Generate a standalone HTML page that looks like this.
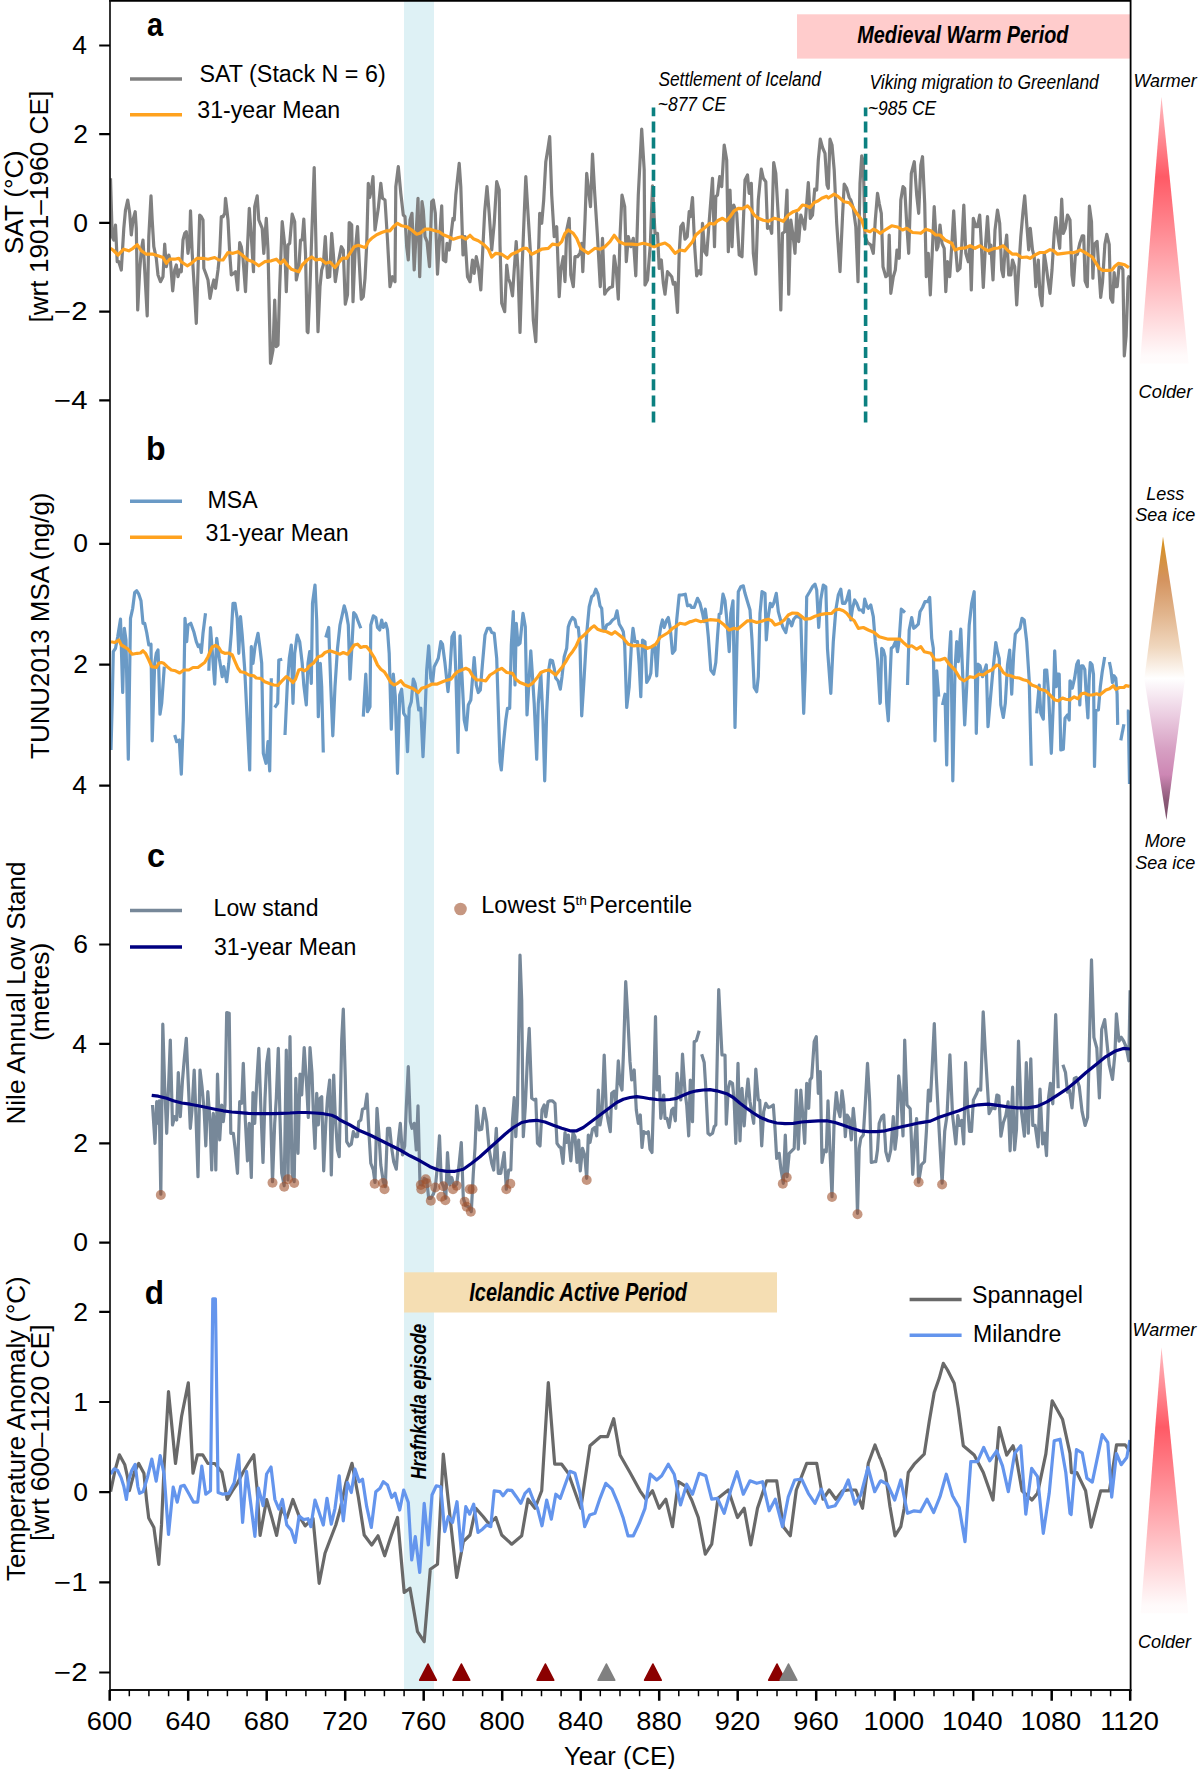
<!DOCTYPE html>
<html><head><meta charset="utf-8"><style>
html,body{margin:0;padding:0;background:#fff;width:1200px;height:1769px;overflow:hidden}
svg{display:block;font-family:"Liberation Sans", sans-serif}
</style></head><body>
<svg width="1200" height="1769" viewBox="0 0 1200 1769">
<defs><clipPath id="clipplot"><rect x="110" y="0" width="1020.6" height="1690"/></clipPath></defs>
<rect x="404" y="0" width="30" height="1690" fill="#DEF1F5"/>
<rect x="797" y="14.3" width="333.6" height="44.3" fill="#FFCCCC"/>
<rect x="404.1" y="1272.3" width="372.9" height="40.2" fill="#F5DEB3"/>
<g clip-path="url(#clipplot)">
<polyline points="110.5,178.3 112.2,236.7 113.8,240.0 115.5,225.0 117.2,261.7 118.8,261.7 121.3,270.0 123.8,228.3 125.5,210.0 127.7,200.0 129.7,213.3 131.3,235.0 133.0,220.0 135.2,211.7 136.3,228.3 137.7,310.0 139.7,270.0 141.3,250.0 143.0,240.0 144.7,270.0 147.2,315.8 148.8,236.7 151.0,195.8 152.2,220.0 153.8,246.7 156.3,258.3 158.0,275.0 160.5,281.7 163.0,276.7 164.7,244.2 166.3,266.7 168.8,255.0 170.5,261.7 172.7,290.8 174.7,270.0 176.3,265.0 178.0,276.7 179.7,270.0 181.3,271.7 183.0,240.0 184.7,233.3 186.3,231.7 188.0,253.3 189.7,240.0 190.5,210.8 192.2,253.3 194.7,295.0 196.3,323.3 198.0,270.0 199.7,215.0 201.3,216.7 203.0,220.0 203.8,268.3 206.3,275.0 208.0,280.0 210.0,298.3 212.2,286.7 213.8,280.0 215.5,288.3 218.0,270.0 219.7,253.3 221.3,216.7 223.0,216.7 224.7,213.3 225.5,198.3 226.7,208.3 228.0,220.0 229.7,253.3 231.3,275.0 233.8,273.3 235.5,271.7 237.7,290.0 239.7,242.5 241.3,246.7 243.0,258.3 245.5,291.7 247.2,253.3 249.3,208.3 251.3,236.7 253.5,271.7 254.7,206.7 257.2,195.8 258.8,220.0 260.5,224.2 262.2,228.3 263.8,253.3 266.3,218.3 268.0,250.0 270.5,363.3 273.0,350.0 274.7,300.0 276.3,346.7 278.0,345.0 279.7,286.7 282.2,221.7 284.7,245.0 286.3,291.7 288.0,245.0 289.7,243.3 292.2,214.2 294.7,221.7 296.3,280.0 298.8,268.3 300.5,240.0 302.2,240.0 303.8,219.2 305.5,253.3 307.2,331.7 308.0,332.5 310.0,286.7 311.7,236.7 314.2,167.5 315.8,236.7 318.0,331.7 320.0,286.7 321.7,270.0 323.3,265.0 325.3,236.7 327.5,277.5 329.7,276.7 331.7,233.3 333.3,253.3 335.3,281.7 337.5,266.7 341.3,246.7 343.3,250.0 345.3,304.2 347.5,295.0 349.2,222.5 351.7,225.0 353.0,301.7 355.0,253.3 357.5,226.7 359.2,261.7 361.3,299.2 363.3,296.7 365.0,278.3 366.7,245.0 368.3,183.3 369.7,197.5 371.3,190.0 373.0,176.7 375.0,230.0 378.3,208.3 380.8,183.3 382.5,198.3 385.0,200.0 387.5,240.0 390.0,286.7 392.5,276.7 395.0,281.7 395.8,186.7 398.3,166.7 400.8,193.3 403.3,215.0 405.0,216.7 406.7,246.7 408.3,260.0 410.0,220.0 412.0,213.3 414.2,270.0 415.8,240.0 418.0,198.3 419.7,276.7 422.0,201.7 423.3,210.0 425.0,236.7 427.0,241.7 429.5,266.7 431.7,201.7 433.3,200.0 435.3,213.3 437.5,274.2 439.7,236.7 441.7,205.8 443.3,260.0 445.8,261.7 447.0,243.3 449.2,250.0 450.8,236.7 453.0,218.3 454.2,220.0 455.8,195.0 459.2,163.3 460.8,186.7 463.0,255.0 465.0,236.7 467.5,276.7 470.0,281.7 472.5,260.0 474.2,273.3 476.3,256.7 478.3,266.7 480.8,290.0 483.0,245.0 484.7,211.7 487.0,186.7 489.2,213.3 491.7,250.0 494.2,223.3 496.7,181.7 499.2,190.0 500.0,245.0 501.7,303.3 504.7,311.7 506.7,265.0 508.3,278.3 510.3,283.3 512.5,295.8 514.2,270.0 516.2,241.7 518.0,270.0 520.0,332.5 522.0,270.0 524.2,215.0 525.8,176.7 528.0,213.3 530.8,258.3 533.3,320.0 535.8,341.7 537.5,286.7 539.7,213.3 541.7,223.3 543.7,200.0 545.8,161.7 548.0,148.3 549.7,136.7 551.7,195.0 554.2,236.7 556.7,226.7 559.2,296.7 560.8,270.0 563.3,256.7 565.0,281.7 566.7,230.0 569.2,218.3 570.8,275.0 573.3,286.7 575.0,256.7 577.5,256.7 580.0,253.3 581.7,243.3 582.8,271.7 585.0,220.0 586.7,173.3 588.7,191.7 590.5,206.7 592.5,154.2 594.7,193.3 597.5,236.7 600.3,286.7 602.5,238.3 604.7,294.2 606.7,290.8 610.0,287.5 612.5,286.7 614.2,255.8 616.3,270.0 618.3,299.2 620.0,236.7 622.0,195.0 624.7,206.7 626.3,261.7 628.3,236.7 630.8,246.7 633.3,238.3 635.8,275.8 638.3,195.0 641.7,129.2 644.2,170.0 645.0,285.0 647.5,280.0 650.3,245.0 652.5,185.8 655.0,233.3 657.5,233.3 659.2,268.3 661.3,260.0 663.3,283.3 665.0,294.2 667.5,271.7 669.7,274.2 671.7,276.7 673.3,284.2 675.0,282.5 677.5,312.5 679.2,253.3 680.8,226.7 683.0,223.3 685.0,239.2 687.2,236.7 689.2,211.7 690.3,216.7 692.5,197.5 694.7,246.7 696.7,275.8 698.7,270.8 700.8,274.2 702.5,223.3 704.7,251.7 706.7,255.0 709.2,221.7 712.5,178.3 714.5,246.7 715.8,196.7 717.5,195.0 719.7,176.7 721.7,186.7 724.2,145.0 726.7,160.0 728.3,251.7 730.0,190.0 732.0,246.7 733.7,205.0 736.7,213.3 739.2,255.0 742.0,256.7 745.0,180.0 747.5,175.0 749.2,193.3 751.3,183.3 753.3,253.3 755.8,274.2 758.3,200.0 761.3,169.2 763.3,178.3 765.8,181.7 767.5,228.3 770.0,226.7 771.7,233.3 773.7,162.5 775.8,173.3 778.3,216.7 780.8,310.0 782.5,233.3 784.7,231.7 787.0,190.0 788.7,294.2 790.8,220.0 793.0,235.0 795.0,253.3 796.7,213.3 798.7,241.7 800.8,215.0 803.0,221.7 804.7,229.2 806.7,203.3 808.3,182.5 810.3,218.3 812.5,215.0 814.7,189.2 816.7,190.0 818.3,160.0 820.3,139.2 822.5,147.5 825.0,153.3 827.0,185.0 828.3,188.3 830.0,139.2 832.0,145.0 834.2,170.0 836.7,223.3 840.0,271.7 842.5,216.7 844.2,184.2 846.7,188.3 849.2,197.5 850.8,200.0 853.3,208.3 855.8,226.7 858.0,281.7 860.0,183.3 861.7,155.8 863.3,161.7 865.0,236.7 867.5,242.5 870.8,245.0 873.3,253.3 875.3,220.0 877.5,193.3 879.2,203.3 881.3,213.3 883.0,266.7 885.8,276.7 888.0,275.0 889.2,235.0 890.8,293.3 893.3,276.7 895.3,270.0 897.0,250.0 899.2,258.3 900.8,200.0 903.0,186.7 904.7,188.3 906.7,223.3 908.7,253.3 911.3,173.3 914.3,161.7 916.7,195.0 918.7,213.3 920.8,165.0 922.5,156.7 924.7,203.3 926.3,276.7 928.3,253.3 930.3,295.0 932.5,246.7 934.2,206.7 936.7,250.0 938.0,246.7 940.0,225.0 942.0,243.3 944.2,248.3 945.8,291.7 947.5,261.7 949.7,276.7 951.7,246.7 953.7,210.8 955.8,250.0 957.5,270.8 960.0,268.3 961.7,246.7 963.8,205.0 965.8,253.3 968.3,261.7 970.0,246.7 971.3,290.0 973.3,218.3 975.8,226.7 977.5,226.7 979.7,215.0 981.3,243.3 983.3,287.5 985.3,248.3 987.5,216.7 989.7,253.3 990.8,245.0 993.0,280.0 995.0,230.0 997.5,210.0 999.7,223.3 1001.7,270.0 1003.3,276.7 1005.0,250.0 1006.7,235.0 1008.7,275.0 1010.8,275.0 1012.5,260.0 1014.7,266.7 1016.7,305.0 1018.7,270.0 1020.8,236.7 1023.0,211.7 1024.7,195.8 1026.7,223.3 1028.7,250.0 1030.3,228.3 1032.5,250.0 1034.2,256.7 1035.8,286.7 1038.3,260.0 1040.0,295.0 1042.0,305.8 1044.2,253.3 1045.8,263.3 1048.0,280.0 1050.0,293.3 1052.0,270.0 1054.2,233.3 1055.8,217.5 1057.5,233.3 1059.7,248.3 1061.7,199.2 1063.3,233.3 1065.3,228.3 1067.5,215.0 1070.0,220.0 1072.0,275.4 1073.4,285.3 1075.3,255.6 1077.4,254.2 1079.9,242.9 1082.3,235.8 1083.7,235.8 1085.1,281.0 1087.3,286.7 1089.4,206.2 1091.5,221.7 1092.9,278.2 1094.3,244.3 1097.1,241.5 1098.8,268.3 1100.7,297.3 1102.5,282.4 1104.9,244.3 1106.8,234.4 1109.2,244.3 1110.6,298.0 1112.7,302.2 1114.1,272.5 1115.8,286.7 1117.2,286.7 1119.0,266.9 1121.2,266.9 1122.9,269.7 1124.3,355.9 1126.1,336.1 1128.2,278.2 1129.4,275.4" fill="none" stroke="#808080" stroke-width="3.2" stroke-linejoin="round"/>
<polyline points="110.5,248.3 113.0,250.0 118.0,255.0 123.8,249.2 128.8,250.8 133.0,248.3 137.2,244.7 141.3,250.8 146.3,254.2 153.0,254.2 158.0,255.8 163.0,257.5 166.3,263.3 169.7,259.2 174.7,259.2 178.8,258.3 181.3,261.7 187.2,265.8 191.3,263.3 197.2,258.3 203.0,258.3 208.0,259.2 214.7,257.5 218.8,260.0 223.0,260.0 228.0,252.5 233.0,253.3 238.0,251.7 243.0,255.8 248.0,260.0 253.0,261.7 258.8,265.8 264.7,261.7 271.3,260.8 276.3,259.2 280.5,263.3 283.8,260.0 287.2,265.0 291.3,269.2 298.8,271.7 302.2,265.0 307.2,260.0 311.7,257.0 315.8,260.0 320.8,259.2 325.8,263.3 330.0,262.0 335.0,267.5 338.3,263.3 342.5,258.0 346.7,258.3 350.0,253.3 354.2,246.7 358.3,245.3 362.5,246.7 365.3,247.5 368.3,241.7 371.7,238.3 376.7,234.7 381.7,232.5 386.7,230.8 390.0,230.8 393.3,226.7 397.5,223.3 401.7,225.8 406.7,226.7 411.7,230.0 416.7,234.2 420.0,233.3 425.0,229.2 430.0,229.2 435.0,230.8 439.2,231.7 443.3,234.7 448.3,236.7 453.3,239.2 458.3,237.5 461.7,236.7 465.8,239.2 470.0,235.3 473.3,238.7 478.3,240.8 483.3,244.2 488.3,249.2 491.7,257.0 495.8,253.3 501.7,254.2 507.5,258.3 511.7,254.2 517.5,251.7 523.3,248.3 526.7,248.3 531.7,254.2 536.7,251.7 541.7,249.2 548.3,248.3 552.5,244.2 558.3,245.0 561.7,241.7 565.0,233.3 568.3,230.0 573.3,233.3 576.7,238.3 580.8,248.3 588.3,253.3 595.0,248.3 600.0,249.2 605.0,246.7 610.0,241.7 614.2,235.3 619.2,241.7 625.0,244.2 631.7,244.2 636.7,244.7 643.3,243.3 650.0,245.0 654.2,246.7 658.3,245.0 665.0,243.0 669.2,245.8 675.0,253.3 680.0,250.0 685.0,250.8 692.5,241.7 695.8,235.0 700.8,230.8 705.0,227.5 710.0,223.3 714.2,224.2 717.5,220.8 722.5,218.3 726.7,220.8 730.0,216.7 734.2,210.8 738.3,208.3 742.5,208.7 747.5,205.8 750.0,208.3 754.2,215.0 758.3,218.3 763.3,220.3 768.3,221.3 774.2,218.3 778.3,219.2 783.3,221.3 788.3,215.0 793.3,211.7 798.3,210.0 802.5,205.0 806.7,205.8 810.0,207.5 814.2,202.5 818.3,200.8 821.7,198.3 826.7,196.3 828.3,198.0 830.8,196.3 834.2,194.2 838.3,196.7 844.2,201.7 849.2,202.8 852.5,206.7 856.7,213.3 861.7,220.0 865.0,230.0 870.0,231.7 873.3,229.2 876.7,230.8 880.0,233.3 885.0,230.0 891.7,225.8 897.5,227.0 902.5,230.0 906.7,228.3 912.5,232.5 919.2,233.0 920.8,233.3 925.8,229.2 930.8,230.8 935.8,235.0 940.0,235.0 945.0,240.0 951.7,243.3 955.0,250.0 960.0,248.3 965.8,247.8 970.0,245.8 975.0,248.3 980.0,245.8 985.0,249.2 988.3,250.8 993.3,248.7 998.3,248.0 1003.3,245.8 1008.3,250.8 1012.5,254.2 1016.7,254.2 1021.7,257.5 1026.7,257.0 1030.0,258.3 1035.0,255.0 1040.0,252.5 1045.0,252.5 1050.0,249.7 1053.3,250.5 1057.5,254.2 1063.3,253.3 1070.0,252.5 1073.1,252.8 1077.4,251.4 1080.2,249.9 1084.4,252.1 1088.7,254.9 1092.2,257.0 1095.7,262.7 1099.3,268.3 1102.8,270.4 1108.4,270.4 1112.0,270.0 1114.8,266.2 1118.3,263.4 1121.9,264.1 1124.7,264.8 1128.9,267.6" fill="none" stroke="#FFA21F" stroke-width="3.2" stroke-linejoin="round"/>
<polyline points="111.0,750.0 112.2,703.3 113.3,651.7 115.5,648.3 117.7,636.7 120.5,619.2 122.7,692.5 124.3,628.3 126.0,640.0 128.3,759.2 130.5,618.3 132.7,608.3 134.7,592.5 136.7,590.8 138.8,594.2 141.0,600.8 143.0,623.3 144.7,623.3 146.7,632.5 148.8,645.0 151.0,644.2 152.2,740.8 154.7,663.3 156.3,653.3 158.0,650.0 158.8,670.0 160.0,714.2 161.7,703.3 164.3,666.7" fill="none" stroke="#6A9AC6" stroke-width="3.2" stroke-linejoin="round"/>
<polyline points="174.7,735.0 176.7,741.7 179.3,740.0 181.3,774.2 183.3,720.0 185.0,618.3 186.7,641.7 188.0,625.0 190.8,623.3 193.8,631.7 196.3,641.7 198.3,646.7 200.0,645.0 201.3,652.5 203.0,633.3 205.5,613.3" fill="none" stroke="#6A9AC6" stroke-width="3.2" stroke-linejoin="round"/>
<polyline points="208.8,670.8 210.5,627.5 214.7,684.2 216.7,638.3 218.0,648.3 219.3,658.3 222.2,676.7 223.8,666.7 226.7,681.7 228.8,663.3 231.3,633.3 233.0,603.3 235.0,603.3 237.2,618.3 238.8,653.3 240.5,616.7 242.2,635.0 244.7,669.2 249.7,770.0 251.3,646.7 253.0,663.3 255.0,646.7 258.0,633.3 260.0,648.3 261.7,663.3 263.3,753.3 266.0,763.3 268.0,741.7 269.7,770.8 271.3,678.3" fill="none" stroke="#6A9AC6" stroke-width="3.2" stroke-linejoin="round"/>
<polyline points="274.7,707.5 277.7,703.3 278.8,660.0 282.2,659.2" fill="none" stroke="#6A9AC6" stroke-width="3.2" stroke-linejoin="round"/>
<polyline points="285.0,735.0 287.2,686.7 289.3,658.3 291.3,645.0 293.0,703.3 294.7,653.3 297.2,635.0 299.7,641.7 302.2,663.3 303.8,685.0 306.3,705.0 308.0,663.3 309.7,651.7 311.3,683.3 312.5,603.3 315.0,585.0 316.7,620.0 318.3,716.7 320.3,663.3 321.7,686.7 323.3,752.5" fill="none" stroke="#6A9AC6" stroke-width="3.2" stroke-linejoin="round"/>
<polyline points="325.8,637.5 328.7,627.5 330.8,686.7 332.8,735.8 335.0,686.7 337.5,648.3 340.0,625.0 344.2,605.8 346.3,613.3 348.3,625.0 350.0,679.2 351.7,650.0 353.7,612.5 355.8,615.0 358.3,621.7 360.8,628.3" fill="none" stroke="#6A9AC6" stroke-width="3.2" stroke-linejoin="round"/>
<polyline points="363.3,716.7 365.8,674.2 367.5,711.7 370.0,706.7 370.8,625.0 373.3,615.8 375.8,617.5 377.5,627.5 379.7,630.0 381.7,620.0 383.3,627.5 385.8,623.3 387.5,630.0 389.2,653.3 391.3,729.2 393.3,674.2 395.3,696.7 397.5,773.3 399.7,695.0 401.7,689.2 403.7,713.3 405.8,716.7 407.5,751.7 409.2,708.3 411.3,701.7 413.3,679.2 415.0,683.3 416.7,693.3 418.7,710.0 420.8,708.3 423.0,756.7 425.0,715.0 426.7,670.0 428.7,645.8 430.8,678.3 432.5,683.3 434.2,666.7 436.7,661.7 438.3,658.3 440.8,641.7 442.5,644.2 445.0,663.3 448.0,691.7 450.0,670.0 452.0,636.7 454.2,632.5 455.8,671.7 458.0,752.5 460.0,635.8 462.5,686.7 464.2,720.0 466.3,730.0 468.3,705.0 470.8,700.0 474.2,657.5 476.3,685.0 478.3,692.5 480.3,690.0 482.5,663.3 485.0,635.0 487.5,628.3 490.0,628.3 491.7,632.5 494.2,633.3 496.7,658.3 500.0,761.7 501.3,770.0 503.3,745.0 505.8,720.0 507.5,708.3 509.7,708.3 511.3,645.0 513.3,611.7 515.0,685.0 516.3,623.3 518.0,645.0 520.0,643.3 523.0,613.3 525.3,626.7 527.0,715.0 529.2,678.3 530.8,650.8 532.5,676.7 534.2,703.3 536.7,759.2 538.3,703.3 540.8,673.3 543.0,720.0 544.7,780.8 546.7,711.7 548.7,670.0 550.3,660.0 552.5,660.8 554.2,668.3 555.8,678.3 558.0,680.8 560.3,689.2 562.0,676.7 564.2,656.7 566.7,648.3 568.3,626.7 570.0,621.7 572.5,617.5 575.0,620.0 576.3,626.7 578.3,627.5 580.0,645.0 581.7,715.8 584.2,676.7 586.7,633.3 589.2,606.7 591.7,596.7 593.7,595.0 595.8,589.2 598.0,594.2 600.0,605.8 601.7,608.3 603.3,630.8 605.3,629.2 606.7,625.0 610.0,623.3 612.5,620.0 615.0,618.3 617.0,610.8 619.2,624.2 621.7,628.3 623.3,631.7 624.7,645.0 626.7,707.5 629.2,686.7 631.3,646.7 633.0,628.3 635.0,641.7 637.5,641.7 639.2,665.0 640.8,696.7 642.5,640.0 645.0,641.7 646.7,682.5 649.2,678.3 650.8,673.3 652.5,646.7 655.0,646.7 656.7,675.8 658.7,640.0 660.8,626.7 662.5,620.0 664.2,627.5 666.7,620.0 668.3,617.5 670.3,628.3 672.5,653.3 675.0,650.0 676.7,620.0 679.2,595.0 681.7,595.0 685.3,594.2 687.5,605.8 690.0,605.0 691.7,607.5 694.2,607.5 697.5,598.3 700.0,603.3 702.5,613.3 704.2,621.7 705.3,609.2 706.7,620.0 708.3,636.7 710.8,670.0 713.7,674.2 715.8,662.5 717.5,636.7 719.2,614.2 720.8,613.3 723.0,594.2 725.0,600.8 726.7,618.3 729.2,651.7 730.8,613.3 733.0,600.8 735.0,727.5 736.7,653.3 738.3,591.7 740.8,586.7 743.3,585.8 745.0,593.3 747.5,601.7 750.0,610.0 752.0,640.0 754.2,687.5 756.7,691.7 758.3,676.7 760.0,613.3 762.0,591.7 765.0,593.3 766.3,640.0 768.0,618.3 770.3,603.3 772.0,606.7 773.7,603.3 776.3,593.3 778.3,611.7 780.8,620.8 783.0,627.5 785.8,632.5 788.3,619.2 790.0,621.7 791.7,625.8 793.7,619.2 795.8,616.7 798.3,616.7 800.8,618.3 803.7,713.3 805.3,670.0 806.7,596.7 809.7,591.7 812.5,586.7 815.0,584.2 816.7,590.0 818.7,627.5 820.8,599.2 823.3,585.0 825.8,586.7 827.5,649.2 830.8,693.3 833.3,641.7 835.8,610.0 838.3,595.0 840.8,589.2 842.5,603.3 845.0,603.3 846.7,600.0 849.2,590.8 850.8,620.0 852.5,608.3 854.7,600.0 856.7,603.3 859.2,610.0 861.7,610.0 863.3,612.5 864.7,599.2 866.7,605.8 868.3,608.3 870.8,605.0 873.3,616.7 875.3,641.7 877.5,660.0 880.0,703.3 880.3,702.5 881.7,648.3 883.3,650.0 885.0,656.7 886.7,703.3 888.3,720.8 889.7,686.7 891.3,648.3 893.3,646.7 895.8,640.8 897.5,651.7 899.2,640.0 901.3,609.2 905.0,612.5" fill="none" stroke="#6A9AC6" stroke-width="3.2" stroke-linejoin="round"/>
<polyline points="907.5,685.0 909.2,630.0 911.7,617.5 913.7,628.3 915.8,626.7 918.3,624.2 920.0,611.7 922.5,607.5 925.0,601.7 927.5,601.7 929.7,597.5 931.7,638.3 933.3,648.3 935.0,740.8 936.7,670.8 938.7,696.7" fill="none" stroke="#6A9AC6" stroke-width="3.2" stroke-linejoin="round"/>
<polyline points="942.5,705.0 945.0,694.2 946.7,765.0 948.3,670.0 950.8,631.7 952.8,780.8 955.0,670.0 956.7,641.7 958.3,661.7 960.8,629.2 962.5,670.0 964.7,725.0 966.7,686.7 969.2,625.0 971.7,603.3 974.2,591.7 976.3,733.3 978.0,664.2 980.0,665.8 982.5,676.7 984.7,670.0 986.3,665.0 988.0,726.7 990.0,703.3 992.5,675.0 995.8,642.5 997.5,651.7 999.2,658.3 1000.8,705.0 1003.3,717.5 1005.3,703.3 1007.5,665.0 1009.7,650.0 1011.7,694.2 1013.7,653.3 1015.3,634.2 1017.5,630.8 1020.0,628.3 1022.0,618.3 1024.2,620.0 1026.7,641.7 1029.2,680.0 1031.3,765.8" fill="none" stroke="#6A9AC6" stroke-width="3.2" stroke-linejoin="round"/>
<polyline points="1036.7,713.3 1039.2,685.0 1040.8,713.3 1043.3,719.2 1044.7,670.0 1046.7,670.0 1048.7,695.0 1051.3,753.3 1053.3,703.3 1054.7,650.8 1056.3,686.7 1057.5,674.2 1059.2,674.2 1060.8,750.0 1063.3,749.2 1065.0,718.3 1067.5,715.0 1069.2,720.0 1070.0,680.8 1070.4,681.3 1072.3,688.2 1074.6,678.2 1076.7,664.5 1078.3,660.8 1079.8,705.0 1081.3,665.8 1082.9,665.8 1084.8,669.5 1086.2,694.4 1087.9,718.0 1089.1,680.7 1090.3,662.7 1092.0,664.5 1093.5,674.5 1094.5,766.5 1095.9,710.5 1098.4,709.9 1100.3,686.9 1102.2,672.0 1104.7,657.1" fill="none" stroke="#6A9AC6" stroke-width="3.2" stroke-linejoin="round"/>
<polyline points="1109.4,662.0 1110.9,669.5 1112.4,682.6 1114.0,675.7 1115.8,678.2 1117.1,694.4 1117.7,724.9" fill="none" stroke="#6A9AC6" stroke-width="3.2" stroke-linejoin="round"/>
<polyline points="1120.8,740.4 1123.9,724.2" fill="none" stroke="#6A9AC6" stroke-width="3.2" stroke-linejoin="round"/>
<polyline points="1126.8,711.2 1128.3,711.2 1129.5,783.9" fill="none" stroke="#6A9AC6" stroke-width="3.2" stroke-linejoin="round"/>
<polyline points="111.0,641.7 114.7,642.5 118.8,640.0 121.3,645.0 124.7,647.0 128.0,649.2 132.2,654.2 137.2,653.3 140.5,653.0 143.0,650.8 145.5,653.3 148.8,660.0 151.7,666.7 156.3,667.5 158.8,663.3 161.3,662.5 163.8,663.3 167.2,666.7 171.3,670.0 175.5,670.8 179.7,673.0 183.8,670.0 188.8,670.0 193.0,667.5 198.0,667.5 201.3,665.0 204.7,662.5 208.0,656.7 212.2,647.0 215.5,645.3 218.8,647.5 221.3,651.7 224.7,653.3 228.8,653.0 232.2,655.0 234.7,660.8 238.0,668.3 240.5,671.7 244.7,672.5 248.8,675.0 253.8,675.8 256.3,678.0 260.5,678.3 264.7,681.7 268.8,683.3 273.8,685.0 278.0,685.3 281.3,681.7 286.3,676.7 288.8,678.3 293.0,682.5 295.5,679.2 298.8,670.0 301.3,669.2 304.7,670.8 308.0,668.3 308.3,666.7 313.3,663.3 318.3,656.7 321.7,655.8 325.0,652.5 330.0,650.8 335.0,652.5 340.0,654.2 343.3,652.5 347.5,654.2 350.8,650.0 354.2,645.0 357.5,644.2 360.8,647.5 363.3,646.7 366.7,646.7 370.0,650.8 374.2,657.5 377.5,665.0 380.8,669.2 384.2,671.7 387.5,676.7 390.8,682.5 394.2,685.0 397.5,683.3 400.8,680.8 404.2,685.0 408.3,686.7 413.3,688.7 418.3,692.5 421.7,688.3 426.7,686.7 431.7,684.2 436.7,684.2 440.8,682.5 445.0,680.8 450.8,679.2 454.2,675.0 457.5,671.7 461.7,670.0 465.8,668.3 469.2,670.0 472.5,675.8 476.7,680.0 480.8,680.0 485.8,680.8 490.0,675.0 494.2,672.5 497.5,670.0 500.0,669.2 501.7,668.3 506.7,672.5 512.5,673.3 515.8,679.2 520.0,682.5 528.3,685.8 532.5,683.3 536.7,678.3 540.8,672.5 545.0,670.8 549.2,670.0 552.5,672.5 555.8,675.0 559.2,670.8 562.5,666.7 565.8,661.7 569.2,655.8 572.5,651.7 575.8,646.7 579.2,639.2 583.3,635.8 587.5,631.7 590.8,628.3 594.2,625.8 597.5,629.2 601.7,630.8 606.7,631.7 611.7,634.2 615.0,631.7 618.3,634.2 623.3,638.3 628.3,644.2 633.3,645.8 638.3,645.3 642.5,645.8 647.5,648.3 651.7,646.7 655.8,644.2 660.0,637.5 664.2,635.0 668.3,632.5 672.5,628.3 676.7,625.8 680.0,623.3 685.0,624.2 690.0,621.7 690.8,621.7 695.8,620.0 700.8,621.7 705.0,620.8 710.0,619.7 718.3,620.3 723.3,624.2 729.2,630.0 734.2,628.3 737.5,629.2 742.5,625.0 747.5,620.8 751.7,620.8 756.7,622.5 761.7,621.3 765.0,620.0 768.3,619.2 771.7,620.8 775.0,625.0 780.0,623.3 784.2,620.0 788.3,615.0 792.5,613.0 797.5,613.3 800.8,615.8 805.0,619.2 810.0,618.7 815.0,616.3 820.0,614.7 825.8,613.7 831.7,613.3 835.0,610.0 839.2,609.2 843.3,610.8 846.7,613.3 850.0,617.5 854.2,620.8 858.3,628.3 863.3,627.5 868.3,630.0 874.2,632.5 879.2,636.7 888.3,639.2 895.0,639.2 900.0,639.2 904.2,643.3 908.3,646.7 911.7,645.8 916.7,649.2 920.8,646.7 924.2,651.7 930.8,653.3 935.0,660.0 940.0,660.0 945.0,658.3 949.2,664.2 955.0,670.0 960.0,678.3 964.2,680.8 970.0,676.7 974.2,677.5 979.2,674.2 983.3,675.0 987.5,671.7 991.7,670.0 996.7,665.0 999.2,665.8 1003.3,672.5 1006.7,675.0 1010.8,675.8 1015.0,677.5 1019.2,678.0 1023.3,679.7 1027.5,680.8 1031.7,685.0 1036.7,686.7 1040.0,689.2 1045.8,690.8 1050.8,695.8 1055.0,700.0 1058.3,700.8 1062.5,698.0 1065.8,699.2 1070.0,700.0 1070.4,699.4 1074.2,696.9 1077.9,698.7 1081.6,693.8 1084.8,693.1 1088.5,695.0 1092.2,695.0 1096.6,693.8 1099.7,695.0 1102.8,692.5 1105.9,690.0 1109.6,688.8 1113.4,685.7 1115.8,689.4 1119.6,687.5 1123.9,687.5 1125.8,685.7 1129.5,686.3" fill="none" stroke="#FFA21F" stroke-width="3.2" stroke-linejoin="round"/>
<polyline points="152.5,1105.0 155.0,1143.3 156.7,1101.7 158.3,1123.3 159.2,1100.8 160.8,1194.2 162.8,1024.2 164.7,1086.7 166.7,1133.3 168.3,1093.3 170.3,1040.0 172.5,1125.0 174.7,1116.7 176.7,1120.0 178.3,1072.5 180.3,1116.7 182.5,1080.0 184.2,1060.0 186.3,1038.3 188.3,1083.3 190.3,1128.3 192.0,1110.0 194.2,1070.0 195.8,1111.7 198.0,1176.7 200.0,1070.0 202.0,1086.7 204.2,1111.7 205.8,1145.8 207.8,1091.7 210.0,1120.0 211.7,1170.0 213.3,1113.3 215.0,1131.7 215.8,1170.0 217.5,1074.2 219.7,1140.0 221.7,1105.0 223.3,1121.7 225.0,1105.0 226.7,1012.5 229.2,1013.3 230.8,1133.3 233.3,1133.3 235.3,1150.0 237.5,1173.3 239.7,1101.7 241.7,1103.3 243.3,1063.3 245.3,1120.0 247.5,1160.8 249.2,1123.3 251.3,1177.5 253.0,1092.5 254.7,1123.3 256.7,1083.3 258.8,1048.3 260.8,1106.7 263.0,1162.5 265.0,1098.3 266.7,1063.3 268.7,1049.2 270.5,1110.0 272.5,1181.7 274.7,1123.3 276.3,1098.3 278.3,1048.3 280.0,1118.3 281.7,1173.3 284.2,1185.8 286.3,1050.0 288.0,1180.0 290.0,1036.7 292.0,1173.3 294.2,1181.7 295.8,1078.3 298.0,1153.3 300.0,1074.2 301.7,1095.0 304.2,1047.5 306.7,1086.7 308.3,1117.5 310.0,1047.5 312.0,1073.3 313.7,1123.3 315.0,1148.3 316.7,1093.3 318.3,1125.0 320.0,1098.3 321.7,1096.7 323.7,1170.8 325.8,1123.3 327.5,1098.3 329.7,1080.0 331.3,1175.0 333.7,1075.0 335.3,1116.7 337.5,1150.0 339.2,1156.7 341.7,1040.0 343.3,1009.2 345.3,1078.3 346.7,1141.7 349.2,1145.8 351.3,1144.2 353.3,1131.7 355.8,1136.7 357.5,1136.7 358.7,1121.7 360.8,1120.0 362.5,1109.2 365.0,1108.3 367.0,1094.2 368.7,1128.3 370.8,1163.3 373.3,1170.0 375.0,1182.5 377.0,1108.3 379.2,1138.3 380.8,1165.0 383.3,1181.7 385.3,1186.7 387.5,1128.3 389.7,1128.3 391.7,1148.3 393.7,1161.7 396.3,1169.2 398.3,1141.7 400.3,1123.3 402.5,1155.0 404.7,1145.8 406.3,1106.7 408.3,1066.7 410.3,1121.7 412.0,1128.3 414.2,1123.3 416.3,1150.0 418.0,1105.8 420.0,1184.2 422.0,1185.0 424.2,1178.3 426.7,1180.0 428.7,1198.3 430.8,1198.3 433.3,1194.2 435.3,1187.5 437.5,1165.0 439.5,1135.8 441.3,1181.7 443.7,1186.7 445.8,1198.3 447.5,1152.5 449.7,1185.0 451.7,1177.5 454.2,1186.7 456.7,1184.2 459.2,1163.3 461.3,1142.5 463.3,1198.3 465.8,1205.8 468.7,1206.7 471.3,1211.7 473.3,1173.3 475.0,1148.3 476.7,1105.8 479.2,1130.0 481.7,1129.2 484.2,1108.3 486.7,1121.7 489.2,1150.0 491.7,1163.3 493.7,1170.0 496.3,1128.3 498.3,1173.3 500.8,1173.3 504.2,1152.5 506.3,1189.2 508.7,1170.0 510.8,1170.0 512.5,1120.0 514.2,1097.5 515.8,1136.7 517.5,1103.3 520.0,955.0 521.7,1000.0 523.3,1136.7 525.3,1106.7 527.5,1056.7 529.2,1028.3 531.7,1098.3 534.2,1100.0 535.8,1099.2 537.5,1143.3 540.0,1145.8 542.0,1110.0 544.2,1105.0 545.8,1116.7 548.0,1101.7 550.0,1100.8 552.5,1100.8 555.0,1103.3 557.0,1143.3 559.2,1146.7 560.8,1147.5 563.0,1163.3 565.0,1132.5 566.7,1142.5 568.3,1135.0 570.8,1160.8 573.0,1132.5 575.0,1136.7 577.0,1162.5 578.7,1140.0 580.3,1170.8 582.5,1148.3 584.7,1155.0 586.7,1178.3 588.3,1135.0 590.0,1142.5 592.5,1129.2 594.7,1127.5 596.7,1135.8 598.3,1090.0 600.0,1125.0 602.0,1113.3 604.2,1055.0 606.3,1110.0 608.3,1121.7 610.3,1131.7 611.7,1093.3 614.2,1091.3 615.8,1108.3 618.3,1060.8 620.0,1083.3 622.0,1090.0 623.7,1046.7 625.7,981.7 627.5,1011.7 630.0,1061.7 631.7,1080.0 634.2,1070.0 636.3,1110.0 638.3,1123.3 640.3,1115.0 642.0,1147.5 643.7,1131.7 646.3,1133.3 648.3,1131.7 650.0,1149.2 652.0,1152.5 653.3,1106.7 655.5,1016.7 657.0,1090.0 659.2,1076.7 660.8,1118.3 663.7,1095.0 665.0,1118.3 667.0,1118.3 669.2,1127.5 671.7,1110.0 673.3,1108.3 675.3,1120.8 677.0,1073.3 679.2,1090.0 680.8,1100.0 682.5,1054.2 685.0,1091.7 686.7,1105.0 688.7,1135.8 690.3,1080.0 692.5,1121.7 694.2,1041.7 696.3,1040.8 699.2,1030.8" fill="none" stroke="#778899" stroke-width="3.2" stroke-linejoin="round"/>
<polyline points="701.7,1054.2 704.2,1062.5 705.8,1088.3 708.0,1133.3 710.0,1135.0 712.5,1133.3 714.2,1126.7 715.8,1125.0 718.7,989.7 722.0,1055.0 725.0,1055.0 726.3,1124.2 728.3,1088.3 730.0,1081.7 732.5,1083.3 734.2,1101.7 735.8,1143.3 738.0,1063.3 740.0,1140.8 742.0,1088.3 744.2,1125.8 745.8,1101.7 748.0,1079.2 750.0,1101.7 753.7,1123.3 755.8,1069.2 758.3,1100.0 759.7,1100.0 761.7,1145.8 763.7,1111.7 765.8,1103.3 768.3,1107.5 770.8,1106.7 773.3,1105.0 775.0,1128.3 776.7,1158.3 779.2,1153.3 780.8,1168.3 783.3,1183.3 785.3,1135.0 787.0,1176.7 789.2,1153.3 791.7,1150.8 794.2,1148.3 796.3,1090.0 798.3,1149.2 800.8,1090.0 802.5,1111.7 804.7,1143.3 806.7,1083.3 808.7,1108.3 810.0,1080.0 811.7,1077.5 814.2,1041.7 816.3,1036.7 818.3,1093.3 820.3,1071.7 822.0,1162.5 824.2,1150.0 826.3,1151.7 828.0,1100.8 830.0,1151.7 832.0,1196.7 834.2,1118.3 836.3,1092.5 838.3,1110.0 840.0,1116.7 842.0,1090.8 843.8,1105.0 845.3,1136.7 847.0,1115.0 849.2,1118.3 851.3,1140.0 853.3,1108.3 855.3,1130.0 857.5,1213.3 859.2,1148.3 860.8,1138.3 863.3,1135.0 865.3,1103.3 867.5,1063.3 869.7,1101.7 871.3,1162.5 874.2,1161.7 875.8,1161.7 877.5,1150.0 879.2,1123.3 881.7,1116.7 883.7,1115.0 885.8,1151.7 888.3,1160.8 890.8,1150.0 893.3,1116.7 895.0,1149.2 896.7,1135.0 898.7,1075.8 900.8,1095.0 903.0,1135.8 904.7,1040.0 907.0,1105.0 910.2,1108.7 912.7,1174.3 914.7,1141.1 916.6,1118.5 918.6,1182.2 921.5,1164.6 924.5,1161.6 926.4,1131.3 928.4,1090.1 930.4,1100.9 932.3,1064.7 934.3,1023.5 936.2,1074.5 939.2,1131.3 942.1,1183.2 944.7,1131.3 947.0,1115.6 949.9,1054.9 952.5,1114.6 955.8,1144.0 957.8,1115.6 959.7,1125.4 961.7,1120.5 963.7,1144.0 965.6,1062.7 967.6,1105.8 969.5,1131.3 971.5,1131.3 973.4,1099.9 976.4,1094.1 978.3,1089.2 980.7,1090.1 983.2,1011.8 985.6,1056.8 989.1,1113.6 992.0,1107.8 995.0,1108.7 996.9,1095.0 998.9,1096.0 1000.9,1136.2 1003.4,1122.5 1005.8,1115.6 1008.1,1101.9 1010.1,1150.8 1012.6,1087.2 1014.6,1149.9 1016.5,1129.3 1018.5,1041.2 1021.0,1107.8 1024.4,1136.2 1026.3,1062.7 1028.3,1133.2 1030.8,1058.8 1032.8,1125.4 1035.1,1125.4 1038.1,1146.9 1040.0,1089.2 1042.6,1144.0 1044.5,1133.2 1046.5,1155.7 1048.5,1098.0 1050.4,1083.3 1052.8,1103.8 1055.7,1014.7 1058.2,1088.2" fill="none" stroke="#778899" stroke-width="3.2" stroke-linejoin="round"/>
<polyline points="1062.9,1064.7 1065.5,1072.5 1067.5,1092.1 1069.4,1090.1 1072.0,1107.8 1074.3,1078.4 1076.3,1077.4 1079.2,1086.2 1082.1,1111.7 1085.1,1125.4 1087.6,1117.6 1089.6,1035.3 1091.5,959.9 1093.9,1037.3 1096.8,1048.0 1099.4,1098.0 1101.7,1029.4 1104.7,1019.6 1107.2,1045.1 1109.2,1064.7 1112.5,1079.4 1115.0,1052.9 1116.4,1013.8 1119.0,1041.2 1121.3,1037.3 1123.7,1041.2 1126.2,1047.0 1128.8,1060.8 1130.1,990.3" fill="none" stroke="#778899" stroke-width="3.2" stroke-linejoin="round"/>
<circle cx="160.8" cy="1195.0" r="5" fill="#A0522D" fill-opacity="0.6"/>
<circle cx="272.5" cy="1182.8" r="5" fill="#A0522D" fill-opacity="0.6"/>
<circle cx="284.2" cy="1186.7" r="5" fill="#A0522D" fill-opacity="0.6"/>
<circle cx="287.8" cy="1179.2" r="5" fill="#A0522D" fill-opacity="0.6"/>
<circle cx="294.2" cy="1183.0" r="5" fill="#A0522D" fill-opacity="0.6"/>
<circle cx="374.7" cy="1183.7" r="5" fill="#A0522D" fill-opacity="0.6"/>
<circle cx="383.0" cy="1183.0" r="5" fill="#A0522D" fill-opacity="0.6"/>
<circle cx="384.5" cy="1189.2" r="5" fill="#A0522D" fill-opacity="0.6"/>
<circle cx="420.8" cy="1185.0" r="5" fill="#A0522D" fill-opacity="0.6"/>
<circle cx="421.3" cy="1189.2" r="5" fill="#A0522D" fill-opacity="0.6"/>
<circle cx="425.8" cy="1179.2" r="5" fill="#A0522D" fill-opacity="0.6"/>
<circle cx="426.7" cy="1183.3" r="5" fill="#A0522D" fill-opacity="0.6"/>
<circle cx="430.8" cy="1200.8" r="5" fill="#A0522D" fill-opacity="0.6"/>
<circle cx="435.3" cy="1187.5" r="5" fill="#A0522D" fill-opacity="0.6"/>
<circle cx="443.3" cy="1186.3" r="5" fill="#A0522D" fill-opacity="0.6"/>
<circle cx="441.3" cy="1196.7" r="5" fill="#A0522D" fill-opacity="0.6"/>
<circle cx="445.3" cy="1200.3" r="5" fill="#A0522D" fill-opacity="0.6"/>
<circle cx="453.0" cy="1189.2" r="5" fill="#A0522D" fill-opacity="0.6"/>
<circle cx="456.7" cy="1185.8" r="5" fill="#A0522D" fill-opacity="0.6"/>
<circle cx="464.7" cy="1201.7" r="5" fill="#A0522D" fill-opacity="0.6"/>
<circle cx="466.7" cy="1206.7" r="5" fill="#A0522D" fill-opacity="0.6"/>
<circle cx="470.8" cy="1211.7" r="5" fill="#A0522D" fill-opacity="0.6"/>
<circle cx="469.7" cy="1189.2" r="5" fill="#A0522D" fill-opacity="0.6"/>
<circle cx="472.5" cy="1189.2" r="5" fill="#A0522D" fill-opacity="0.6"/>
<circle cx="506.3" cy="1189.2" r="5" fill="#A0522D" fill-opacity="0.6"/>
<circle cx="510.3" cy="1183.7" r="5" fill="#A0522D" fill-opacity="0.6"/>
<circle cx="586.7" cy="1180.0" r="5" fill="#A0522D" fill-opacity="0.6"/>
<circle cx="782.8" cy="1183.7" r="5" fill="#A0522D" fill-opacity="0.6"/>
<circle cx="786.7" cy="1177.5" r="5" fill="#A0522D" fill-opacity="0.6"/>
<circle cx="832.0" cy="1197.0" r="5" fill="#A0522D" fill-opacity="0.6"/>
<circle cx="857.5" cy="1214.2" r="5" fill="#A0522D" fill-opacity="0.6"/>
<circle cx="918.6" cy="1182.2" r="5" fill="#A0522D" fill-opacity="0.6"/>
<circle cx="942.1" cy="1184.5" r="5" fill="#A0522D" fill-opacity="0.6"/>
<polyline points="151.7,1095.3 158.3,1096.2 166.7,1098.3 173.3,1100.8 181.7,1103.0 190.0,1104.2 198.3,1105.8 206.7,1107.5 215.0,1109.2 223.3,1110.8 231.7,1112.0 240.0,1112.7 248.3,1113.3 256.7,1113.7 265.0,1113.7 273.3,1113.7 281.7,1113.3 290.0,1113.0 298.3,1112.5 306.7,1112.5 315.0,1113.0 323.3,1113.7 331.7,1115.3 336.7,1117.5 340.0,1120.0 350.0,1125.0 360.0,1130.8 370.0,1135.0 380.0,1140.0 390.0,1145.0 400.0,1150.0 410.0,1155.8 420.0,1160.8 430.0,1166.7 438.3,1170.0 446.7,1171.3 455.0,1171.3 463.3,1169.2 471.7,1163.3 480.0,1156.7 488.3,1149.2 496.7,1141.7 505.0,1134.2 513.3,1127.5 521.7,1122.5 530.0,1120.8 536.7,1120.3 545.0,1122.0 553.3,1125.3 561.7,1128.3 570.0,1130.8 576.7,1130.8 583.3,1127.5 590.0,1122.5 596.7,1117.5 603.3,1112.5 610.0,1107.5 616.7,1102.5 623.3,1099.2 630.0,1097.5 636.7,1096.7 643.3,1097.5 650.0,1098.7 656.7,1099.5 663.3,1100.0 670.0,1099.5 676.7,1098.3 683.3,1095.3 690.0,1092.5 696.7,1090.8 703.3,1090.0 710.0,1089.7 716.7,1090.8 720.0,1091.7 726.7,1093.7 733.3,1097.5 740.0,1103.3 746.7,1108.3 753.3,1113.0 760.0,1117.2 768.3,1120.8 776.7,1123.0 785.0,1123.7 793.3,1123.3 801.7,1122.0 810.0,1121.3 818.3,1120.8 826.7,1120.8 835.0,1122.5 843.3,1125.3 851.7,1128.3 860.0,1130.8 868.3,1131.7 876.7,1131.7 885.0,1130.8 893.3,1128.7 901.7,1126.7 909.8,1125.0 919.6,1122.8 930.4,1121.1 939.2,1117.2 949.0,1114.0 958.8,1110.7 968.5,1106.8 978.3,1104.8 988.1,1104.2 997.9,1105.4 1007.7,1106.8 1017.5,1107.8 1027.3,1107.8 1037.1,1106.4 1046.9,1101.9 1056.7,1095.6 1066.5,1089.2 1076.3,1081.3 1086.1,1072.5 1095.8,1064.7 1105.6,1056.8 1115.4,1051.0 1123.3,1048.4 1130.1,1049.0" fill="none" stroke="#000080" stroke-width="3.2" stroke-linejoin="round"/>
<polyline points="110.6,1491.6 115.0,1470.5 119.4,1454.8 124.7,1464.4 127.3,1475.8 129.4,1490.7 134.3,1472.3 138.7,1463.5 143.9,1473.2 146.6,1500.3 148.7,1517.9 153.9,1527.5 158.8,1564.3 161.5,1524.9 164.1,1467.0 168.5,1391.7 175.5,1463.5 181.6,1416.2 188.3,1382.9 193.0,1473.2 197.4,1454.8 202.7,1454.8 207.9,1463.5 214.9,1463.5 221.9,1472.3 227.2,1499.5 232.5,1490.7 237.7,1482.8 243.0,1472.3 248.2,1463.5 253.8,1454.8 257.0,1488.1 260.1,1535.4 266.6,1499.5 271.9,1517.9 276.6,1535.4 281.5,1508.2 286.8,1517.9 292.9,1499.5 299.1,1516.1 305.2,1525.8 308.0,1523.1 313.0,1518.3 319.2,1583.3 325.0,1553.3 330.0,1540.0 335.8,1525.0 340.0,1510.0 345.8,1483.3 352.0,1463.3 358.3,1496.7 364.2,1535.0 371.7,1545.0 378.0,1535.8 384.7,1555.8 390.8,1536.7 397.5,1517.5 404.2,1592.5 410.0,1588.3 417.5,1631.7 424.2,1641.7 430.3,1569.2 437.5,1564.2 443.3,1454.2 450.0,1516.7 456.7,1577.5 463.3,1541.7 470.0,1535.0 475.8,1508.3 483.3,1516.7 489.2,1524.2 495.8,1517.5 500.0,1530.0 501.7,1535.0 511.7,1544.2 521.7,1535.8 528.0,1499.2 535.0,1508.3 541.7,1490.8 548.3,1382.5 554.7,1464.2 561.7,1464.2 568.3,1473.3 580.8,1508.3 590.0,1445.8 600.3,1436.7 607.5,1436.7 613.7,1418.7 620.0,1455.0 630.0,1472.5 640.0,1490.8 645.8,1499.2 652.5,1490.8 659.2,1508.3 665.8,1499.2 672.5,1526.7 678.3,1481.7 685.0,1485.8 690.0,1496.7 691.7,1500.0 698.3,1517.5 705.3,1554.2 711.7,1544.2 718.0,1498.3 728.3,1490.0 737.5,1517.5 744.2,1508.3 750.8,1545.0 757.5,1508.3 766.7,1480.8 776.7,1480.8 783.3,1526.7 790.3,1535.8 796.3,1490.0 806.7,1463.3 816.7,1463.3 823.0,1499.2 829.2,1490.0 835.8,1499.2 842.5,1490.8 848.3,1490.0 855.8,1490.0 862.5,1508.3 868.3,1463.3 875.0,1445.0 880.0,1458.3 880.3,1458.3 885.3,1472.5 890.0,1506.7 895.0,1535.8 900.8,1526.7 904.2,1508.3 908.3,1472.5 914.2,1464.2 924.2,1454.2 929.2,1421.7 934.2,1392.5 939.2,1378.3 943.3,1363.3 947.5,1370.0 954.2,1383.3 958.3,1408.3 963.3,1445.8 974.2,1455.0 983.3,1472.5 993.0,1500.0 999.2,1427.5 1006.7,1455.0 1013.0,1445.8 1015.8,1455.0 1022.0,1490.8 1032.0,1500.0 1037.5,1493.3 1045.8,1454.2 1052.2,1400.8 1062.5,1419.2 1070.0,1453.3 1071.4,1472.6 1076.9,1472.6 1085.6,1490.8 1091.2,1527.2 1100.7,1490.8 1109.4,1490.8 1116.5,1444.9 1125.2,1444.9 1129.9,1451.2" fill="none" stroke="#696969" stroke-width="3.2" stroke-linejoin="round"/>
<polyline points="110.6,1474.0 114.1,1468.8 117.6,1470.5 121.1,1477.6 123.8,1486.3 126.4,1499.5 129.0,1479.3 131.7,1470.5 135.2,1464.4 137.8,1486.3 139.6,1493.3 143.1,1491.6 147.4,1477.6 151.8,1459.1 156.2,1481.1 160.2,1455.6 164.1,1474.0 168.5,1534.5 173.2,1487.2 177.2,1502.1 180.7,1486.3 184.2,1485.4 188.6,1493.3 193.4,1502.1 197.7,1502.1 201.8,1466.2 205.8,1494.2 210.5,1490.7 212.8,1298.8 215.4,1298.8 218.1,1492.5 222.8,1494.2 228.9,1493.3 234.2,1482.8 238.6,1454.8 242.6,1522.3 246.5,1471.4 250.9,1504.7 254.9,1536.3 258.4,1488.1 263.1,1505.6 266.6,1474.0 271.0,1467.0 274.9,1499.5 278.9,1509.1 282.4,1499.5 286.8,1524.9 291.2,1530.1 295.2,1542.4 299.1,1516.1 303.4,1519.6 308.0,1518.7 310.8,1526.7 315.0,1500.0 323.3,1525.0 327.0,1498.3 331.3,1524.2 335.0,1508.3 339.2,1475.8 343.3,1520.8 347.5,1482.5 351.3,1492.5 355.0,1469.2 359.2,1481.7 362.5,1479.2 366.7,1506.7 371.3,1527.5 375.8,1491.7 380.0,1488.3 383.3,1481.7 387.5,1485.0 391.7,1497.5 395.0,1493.3 399.7,1510.0 403.7,1490.0 408.3,1502.5 411.7,1560.0 415.3,1536.7 419.7,1572.5 424.2,1503.3 428.3,1545.0 432.0,1495.0 436.3,1485.8 440.8,1486.7 444.7,1531.7 448.3,1516.7 452.5,1522.5 457.0,1501.7 461.3,1550.8 465.8,1506.7 469.7,1514.2 473.7,1504.2 478.0,1532.5 482.5,1529.2 486.7,1525.0 490.8,1526.7 494.2,1490.8 500.0,1491.7 503.0,1495.8 507.5,1490.0 511.7,1490.3 516.3,1496.7 520.8,1503.3 525.0,1493.3 529.2,1489.2 533.3,1500.0 537.5,1508.3 542.0,1525.8 546.7,1500.0 551.3,1519.2 555.8,1494.2 560.3,1498.3 565.0,1485.0 570.0,1471.3 575.0,1473.3 580.0,1492.5 584.7,1526.7 589.7,1515.0 595.0,1513.3 600.0,1498.3 605.8,1483.3 612.0,1489.2 618.3,1504.2 623.3,1518.3 628.0,1535.8 633.3,1535.8 639.2,1523.3 645.0,1508.3 650.3,1474.2 656.7,1480.0 661.7,1475.8 668.3,1464.2 674.2,1474.2 680.5,1505.0 686.7,1484.2 690.0,1490.0 692.5,1494.2 699.2,1473.3 705.8,1475.8 711.7,1499.2 717.5,1498.3 724.2,1513.3 730.8,1490.0 737.0,1471.7 743.3,1494.2 750.0,1480.8 756.7,1483.3 762.5,1481.7 769.2,1510.8 775.3,1499.2 782.5,1526.7 788.3,1496.7 794.7,1480.0 801.7,1479.2 808.3,1493.3 815.0,1503.3 821.3,1489.2 828.0,1507.5 835.0,1505.8 841.7,1495.0 848.3,1480.0 855.0,1504.2 860.8,1495.0 868.0,1467.5 874.7,1491.7 880.0,1481.7 880.8,1480.8 887.5,1484.2 894.7,1500.0 900.8,1480.0 907.5,1513.3 914.2,1510.8 920.3,1511.7 927.0,1499.2 933.7,1512.5 940.0,1496.7 946.3,1474.2 952.5,1495.8 959.2,1507.5 965.0,1541.7 970.8,1461.7 977.5,1461.7 983.7,1447.5 989.7,1460.8 996.7,1450.8 1002.5,1465.8 1008.3,1491.7 1014.7,1453.3 1020.8,1445.8 1025.8,1514.2 1031.7,1468.3 1037.5,1476.7 1043.3,1533.3 1049.2,1493.3 1054.2,1440.8 1060.0,1439.2 1065.8,1472.5 1070.0,1513.3 1071.1,1514.5 1076.5,1449.6 1082.2,1452.8 1086.9,1478.1 1092.3,1482.1 1102.2,1434.6 1107.8,1442.5 1111.7,1497.1 1116.5,1453.6 1121.2,1464.7 1126.8,1457.5 1129.9,1440.1" fill="none" stroke="#6495ED" stroke-width="3.2" stroke-linejoin="round"/>
</g>
<path d="M653.5,422.6 V107.6" stroke="#0B8080" stroke-width="3.6" stroke-dasharray="11 5.12"/>
<path d="M865.6,422.6 V107.6" stroke="#0B8080" stroke-width="3.6" stroke-dasharray="11 5.12"/>
<path d="M109,0.9 H1131.5 M1130.6,0 V1691" stroke="#000" stroke-width="1.8" fill="none"/>
<path d="M110,0 V1691" stroke="#111" stroke-width="1.7" fill="none"/>
<path d="M109.2,1690 H1131.5" stroke="#111" stroke-width="2" fill="none"/>
<path d="M99.2,45.5 H110 M99.2,134.2 H110 M99.2,222.9 H110 M99.2,311.6 H110 M99.2,400.3 H110 M99.2,543.8 H110 M99.2,664.7 H110 M99.2,785.6 H110 M99.2,1242.7 H110 M99.2,1143.3 H110 M99.2,1043.9 H110 M99.2,944.5 H110 M99.2,1311.9 H110 M99.2,1402.0 H110 M99.2,1492.2 H110 M99.2,1582.4 H110 M99.2,1672.5 H110" stroke="#000" stroke-width="2.2"/>
<path d="M109.7,1690 V1700.8 M188.2,1690 V1700.8 M266.7,1690 V1700.8 M345.2,1690 V1700.8 M423.7,1690 V1700.8 M502.2,1690 V1700.8 M580.7,1690 V1700.8 M659.2,1690 V1700.8 M737.7,1690 V1700.8 M816.2,1690 V1700.8 M894.7,1690 V1700.8 M973.2,1690 V1700.8 M1051.7,1690 V1700.8 M1130.2,1690 V1700.8" stroke="#000" stroke-width="2.5"/>
<path d="M129.3,1690 V1696.2 M148.9,1690 V1696.2 M168.6,1690 V1696.2 M207.8,1690 V1696.2 M227.4,1690 V1696.2 M247.1,1690 V1696.2 M286.3,1690 V1696.2 M305.9,1690 V1696.2 M325.6,1690 V1696.2 M364.8,1690 V1696.2 M384.4,1690 V1696.2 M404.1,1690 V1696.2 M443.3,1690 V1696.2 M462.9,1690 V1696.2 M482.6,1690 V1696.2 M521.8,1690 V1696.2 M541.5,1690 V1696.2 M561.1,1690 V1696.2 M600.3,1690 V1696.2 M620.0,1690 V1696.2 M639.6,1690 V1696.2 M678.8,1690 V1696.2 M698.5,1690 V1696.2 M718.1,1690 V1696.2 M757.3,1690 V1696.2 M777.0,1690 V1696.2 M796.6,1690 V1696.2 M835.8,1690 V1696.2 M855.5,1690 V1696.2 M875.1,1690 V1696.2 M914.3,1690 V1696.2 M934.0,1690 V1696.2 M953.6,1690 V1696.2 M992.8,1690 V1696.2 M1012.5,1690 V1696.2 M1032.1,1690 V1696.2 M1071.3,1690 V1696.2 M1091.0,1690 V1696.2 M1110.6,1690 V1696.2" stroke="#000" stroke-width="1.5"/>
<path d="M130,79.0 H182" stroke="#808080" stroke-width="3.5"/>
<path d="M130,114.7 H182" stroke="#FFA21F" stroke-width="3.5"/>
<path d="M130,501.2 H182" stroke="#6A9AC6" stroke-width="3.5"/>
<path d="M130,537.2 H182" stroke="#FFA21F" stroke-width="3.5"/>
<path d="M130,910.6 H182" stroke="#778899" stroke-width="3.5"/>
<path d="M130,947 H182" stroke="#000080" stroke-width="3.5"/>
<circle cx="460.5" cy="909" r="6.3" fill="#A0522D" fill-opacity="0.6"/>
<path d="M909.6,1299.6 H961.6" stroke="#696969" stroke-width="3.5"/>
<path d="M909.6,1335.2 H961.6" stroke="#6495ED" stroke-width="3.5"/>
<path d="M428.0,1664 L436.3,1680.2 L419.7,1680.2 Z" fill="#8B0000" stroke="#8B0000" stroke-width="1.6" stroke-linejoin="round"/>
<path d="M461.4,1664 L469.7,1680.2 L453.1,1680.2 Z" fill="#8B0000" stroke="#8B0000" stroke-width="1.6" stroke-linejoin="round"/>
<path d="M545.4,1664 L553.7,1680.2 L537.1,1680.2 Z" fill="#8B0000" stroke="#8B0000" stroke-width="1.6" stroke-linejoin="round"/>
<path d="M606.4,1664 L614.7,1680.2 L598.1,1680.2 Z" fill="#808080" stroke="#808080" stroke-width="1.6" stroke-linejoin="round"/>
<path d="M652.9,1664 L661.2,1680.2 L644.6,1680.2 Z" fill="#8B0000" stroke="#8B0000" stroke-width="1.6" stroke-linejoin="round"/>
<path d="M777.0,1664 L785.2,1680.2 L768.7,1680.2 Z" fill="#8B0000" stroke="#8B0000" stroke-width="1.6" stroke-linejoin="round"/>
<path d="M788.5,1664 L796.8,1680.2 L780.2,1680.2 Z" fill="#808080" stroke="#808080" stroke-width="1.6" stroke-linejoin="round"/>
<defs>
<linearGradient id="gw1" x1="0" y1="0" x2="0" y2="1">
<stop offset="0" stop-color="#FF5A66" stop-opacity="0.4"/>
<stop offset="0.3" stop-color="#FF5A66" stop-opacity="1"/>
<stop offset="0.97" stop-color="#FF5A66" stop-opacity="0.03"/><stop offset="1" stop-color="#FF5A66" stop-opacity="0.02"/>
</linearGradient>
<linearGradient id="gsi" x1="0" y1="0" x2="0" y2="1">
<stop offset="0" stop-color="#D6901A"/>
<stop offset="0.15" stop-color="#D4935E"/>
<stop offset="0.27" stop-color="#E1B48C"/>
<stop offset="0.39" stop-color="#F0D7BE"/>
<stop offset="0.5" stop-color="#FFFFFF"/>
<stop offset="0.63" stop-color="#EBCDE1"/>
<stop offset="0.75" stop-color="#D7A0C3"/>
<stop offset="0.84" stop-color="#CD87B4"/>
<stop offset="0.93" stop-color="#8C5A78"/>
<stop offset="1" stop-color="#7A4F6A"/>
</linearGradient>
</defs>
<path d="M1161.5,96.8 L1188.6,363.6 L1140,363.6 Z" fill="url(#gw1)"/>
<path d="M1161.5,1347.5 L1188.2,1613.3 L1140.7,1613.3 Z" fill="url(#gw1)"/>
<path d="M1163,536.8 L1185,678.7 L1166.4,820 L1144.3,678.7 Z" fill="url(#gsi)"/>
<text x="72.16" y="54.06" font-size="25" textLength="14.74" lengthAdjust="spacingAndGlyphs">4</text>
<text x="73.22" y="142.78" font-size="25" textLength="14.74" lengthAdjust="spacingAndGlyphs">2</text>
<text x="73.22" y="231.50" font-size="25" textLength="14.74" lengthAdjust="spacingAndGlyphs">0</text>
<text x="54.13" y="320.22" font-size="25" textLength="33.48" lengthAdjust="spacingAndGlyphs">−2</text>
<text x="54.13" y="408.94" font-size="25" textLength="33.48" lengthAdjust="spacingAndGlyphs">−4</text>
<text x="73.22" y="552.40" font-size="25" textLength="14.74" lengthAdjust="spacingAndGlyphs">0</text>
<text x="73.22" y="673.30" font-size="25" textLength="14.74" lengthAdjust="spacingAndGlyphs">2</text>
<text x="72.16" y="794.20" font-size="25" textLength="14.74" lengthAdjust="spacingAndGlyphs">4</text>
<text x="73.22" y="1251.30" font-size="25" textLength="14.74" lengthAdjust="spacingAndGlyphs">0</text>
<text x="73.22" y="1151.90" font-size="25" textLength="14.74" lengthAdjust="spacingAndGlyphs">2</text>
<text x="72.16" y="1052.50" font-size="25" textLength="14.74" lengthAdjust="spacingAndGlyphs">4</text>
<text x="73.22" y="953.10" font-size="25" textLength="14.74" lengthAdjust="spacingAndGlyphs">6</text>
<text x="73.22" y="1320.50" font-size="25" textLength="14.74" lengthAdjust="spacingAndGlyphs">2</text>
<text x="73.22" y="1410.65" font-size="25" textLength="14.74" lengthAdjust="spacingAndGlyphs">1</text>
<text x="73.22" y="1500.80" font-size="25" textLength="14.74" lengthAdjust="spacingAndGlyphs">0</text>
<text x="54.13" y="1590.95" font-size="25" textLength="33.48" lengthAdjust="spacingAndGlyphs">−1</text>
<text x="54.13" y="1681.10" font-size="25" textLength="33.48" lengthAdjust="spacingAndGlyphs">−2</text>
<text x="86.81" y="1729.60" font-size="25" textLength="45.47" lengthAdjust="spacingAndGlyphs">600</text>
<text x="165.31" y="1729.60" font-size="25" textLength="45.47" lengthAdjust="spacingAndGlyphs">640</text>
<text x="243.81" y="1729.60" font-size="25" textLength="45.47" lengthAdjust="spacingAndGlyphs">680</text>
<text x="322.31" y="1729.60" font-size="25" textLength="45.47" lengthAdjust="spacingAndGlyphs">720</text>
<text x="400.81" y="1729.60" font-size="25" textLength="45.47" lengthAdjust="spacingAndGlyphs">760</text>
<text x="479.31" y="1729.60" font-size="25" textLength="45.47" lengthAdjust="spacingAndGlyphs">800</text>
<text x="557.81" y="1729.60" font-size="25" textLength="45.47" lengthAdjust="spacingAndGlyphs">840</text>
<text x="636.31" y="1729.60" font-size="25" textLength="45.47" lengthAdjust="spacingAndGlyphs">880</text>
<text x="714.81" y="1729.60" font-size="25" textLength="45.47" lengthAdjust="spacingAndGlyphs">920</text>
<text x="793.31" y="1729.60" font-size="25" textLength="45.47" lengthAdjust="spacingAndGlyphs">960</text>
<text x="863.63" y="1729.60" font-size="25" textLength="60.63" lengthAdjust="spacingAndGlyphs">1000</text>
<text x="942.13" y="1729.60" font-size="25" textLength="60.63" lengthAdjust="spacingAndGlyphs">1040</text>
<text x="1020.63" y="1729.60" font-size="25" textLength="60.63" lengthAdjust="spacingAndGlyphs">1080</text>
<text x="1100.23" y="1729.60" font-size="25" textLength="58.60" lengthAdjust="spacingAndGlyphs">1120</text>
<text x="564.01" y="1765.20" font-size="26" textLength="111.57" lengthAdjust="spacingAndGlyphs">Year (CE)</text>
<text x="146.95" y="36.20" font-size="34" font-weight="bold" textLength="16.13" lengthAdjust="spacingAndGlyphs">a</text>
<text x="146.11" y="460.30" font-size="34" font-weight="bold" textLength="19.63" lengthAdjust="spacingAndGlyphs">b</text>
<text x="147.05" y="867.20" font-size="34" font-weight="bold" textLength="18.03" lengthAdjust="spacingAndGlyphs">c</text>
<text x="144.87" y="1304.30" font-size="34" font-weight="bold" textLength="19.28" lengthAdjust="spacingAndGlyphs">d</text>
<text x="199.49" y="81.70" font-size="23" textLength="186.17" lengthAdjust="spacingAndGlyphs">SAT (Stack N = 6)</text>
<text x="197.29" y="117.60" font-size="23" textLength="142.94" lengthAdjust="spacingAndGlyphs">31-year Mean</text>
<text x="207.49" y="507.90" font-size="23" textLength="50.16" lengthAdjust="spacingAndGlyphs">MSA</text>
<text x="205.49" y="541.30" font-size="23" textLength="143.24" lengthAdjust="spacingAndGlyphs">31-year Mean</text>
<text x="213.60" y="916.30" font-size="23">Low stand</text>
<text x="214.00" y="954.90" font-size="23" textLength="142.43" lengthAdjust="spacingAndGlyphs">31-year Mean</text>
<text x="481.15" y="912.80" font-size="23" textLength="94.44" lengthAdjust="spacingAndGlyphs">Lowest 5</text>
<text x="575.50" y="904.50" font-size="13" textLength="11.39" lengthAdjust="spacingAndGlyphs">th</text>
<text x="589.18" y="912.70" font-size="23" textLength="103.10" lengthAdjust="spacingAndGlyphs">Percentile</text>
<text x="971.99" y="1302.90" font-size="23" textLength="111.02" lengthAdjust="spacingAndGlyphs">Spannagel</text>
<text x="973.00" y="1341.60" font-size="23" textLength="88.42" lengthAdjust="spacingAndGlyphs">Milandre</text>
<text x="857.30" y="42.50" font-size="24.5" font-weight="bold" font-style="italic" textLength="211.18" lengthAdjust="spacingAndGlyphs">Medieval Warm Period</text>
<text x="469.30" y="1301.10" font-size="25" font-weight="bold" font-style="italic" textLength="217.74" lengthAdjust="spacingAndGlyphs">Icelandic Active Period</text>
<text x="658.41" y="85.70" font-size="19.5" font-style="italic" textLength="162.58" lengthAdjust="spacingAndGlyphs">Settlement of Iceland</text>
<text x="657.81" y="110.50" font-size="19.5" font-style="italic" textLength="68.19" lengthAdjust="spacingAndGlyphs">~877 CE</text>
<text x="869.51" y="89.30" font-size="19.5" font-style="italic" textLength="229.29" lengthAdjust="spacingAndGlyphs">Viking migration to Greenland</text>
<text x="867.91" y="114.70" font-size="19.5" font-style="italic" textLength="68.29" lengthAdjust="spacingAndGlyphs">~985 CE</text>
<text x="1133.41" y="86.60" font-size="18" font-style="italic" textLength="63.27" lengthAdjust="spacingAndGlyphs">Warmer</text>
<text x="1138.59" y="397.70" font-size="18" font-style="italic" textLength="53.73" lengthAdjust="spacingAndGlyphs">Colder</text>
<text x="1132.60" y="1336.20" font-size="18" font-style="italic">Warmer</text>
<text x="1138.10" y="1648.20" font-size="18" font-style="italic">Colder</text>
<text x="1146.20" y="500.00" font-size="18" font-style="italic">Less</text>
<text x="1135.20" y="521.00" font-size="18" font-style="italic">Sea ice</text>
<text x="1144.70" y="846.80" font-size="18" font-style="italic">More</text>
<text x="1135.20" y="868.80" font-size="18" font-style="italic">Sea ice</text>
<text transform="translate(23.30,202.30) rotate(-90)" x="-52.02" y="0" font-size="26" textLength="103.93" lengthAdjust="spacingAndGlyphs">SAT (°C)</text>
<text transform="translate(47.60,206.60) rotate(-90)" x="-116.02" y="0" font-size="26" textLength="231.85" lengthAdjust="spacingAndGlyphs">[wrt 1901–1960 CE]</text>
<text transform="translate(49.20,626.40) rotate(-90)" x="-132.50" y="0" font-size="26" textLength="266.32" lengthAdjust="spacingAndGlyphs">TUNU2013 MSA (ng/g)</text>
<text transform="translate(24.70,992.80) rotate(-90)" x="-131.81" y="0" font-size="26" textLength="263.25" lengthAdjust="spacingAndGlyphs">Nile Annual Low Stand</text>
<text transform="translate(49.20,992.30) rotate(-90)" x="-48.77" y="0" font-size="26" textLength="98.33" lengthAdjust="spacingAndGlyphs">(metres)</text>
<text transform="translate(25.00,1429.50) rotate(-90)" x="-151.50" y="0" font-size="26" textLength="304.61" lengthAdjust="spacingAndGlyphs">Temperature Anomaly (°C)</text>
<text transform="translate(49.20,1432.50) rotate(-90)" x="-108.53" y="0" font-size="26" textLength="216.47" lengthAdjust="spacingAndGlyphs">[wrt 600–1120 CE]</text>
<text transform="translate(426.20,1401.50) rotate(-90)" x="-77.80" y="0" font-size="22" font-weight="bold" font-style="italic" textLength="155.48" lengthAdjust="spacingAndGlyphs">Hrafnkatla episode</text>
</svg></body></html>
